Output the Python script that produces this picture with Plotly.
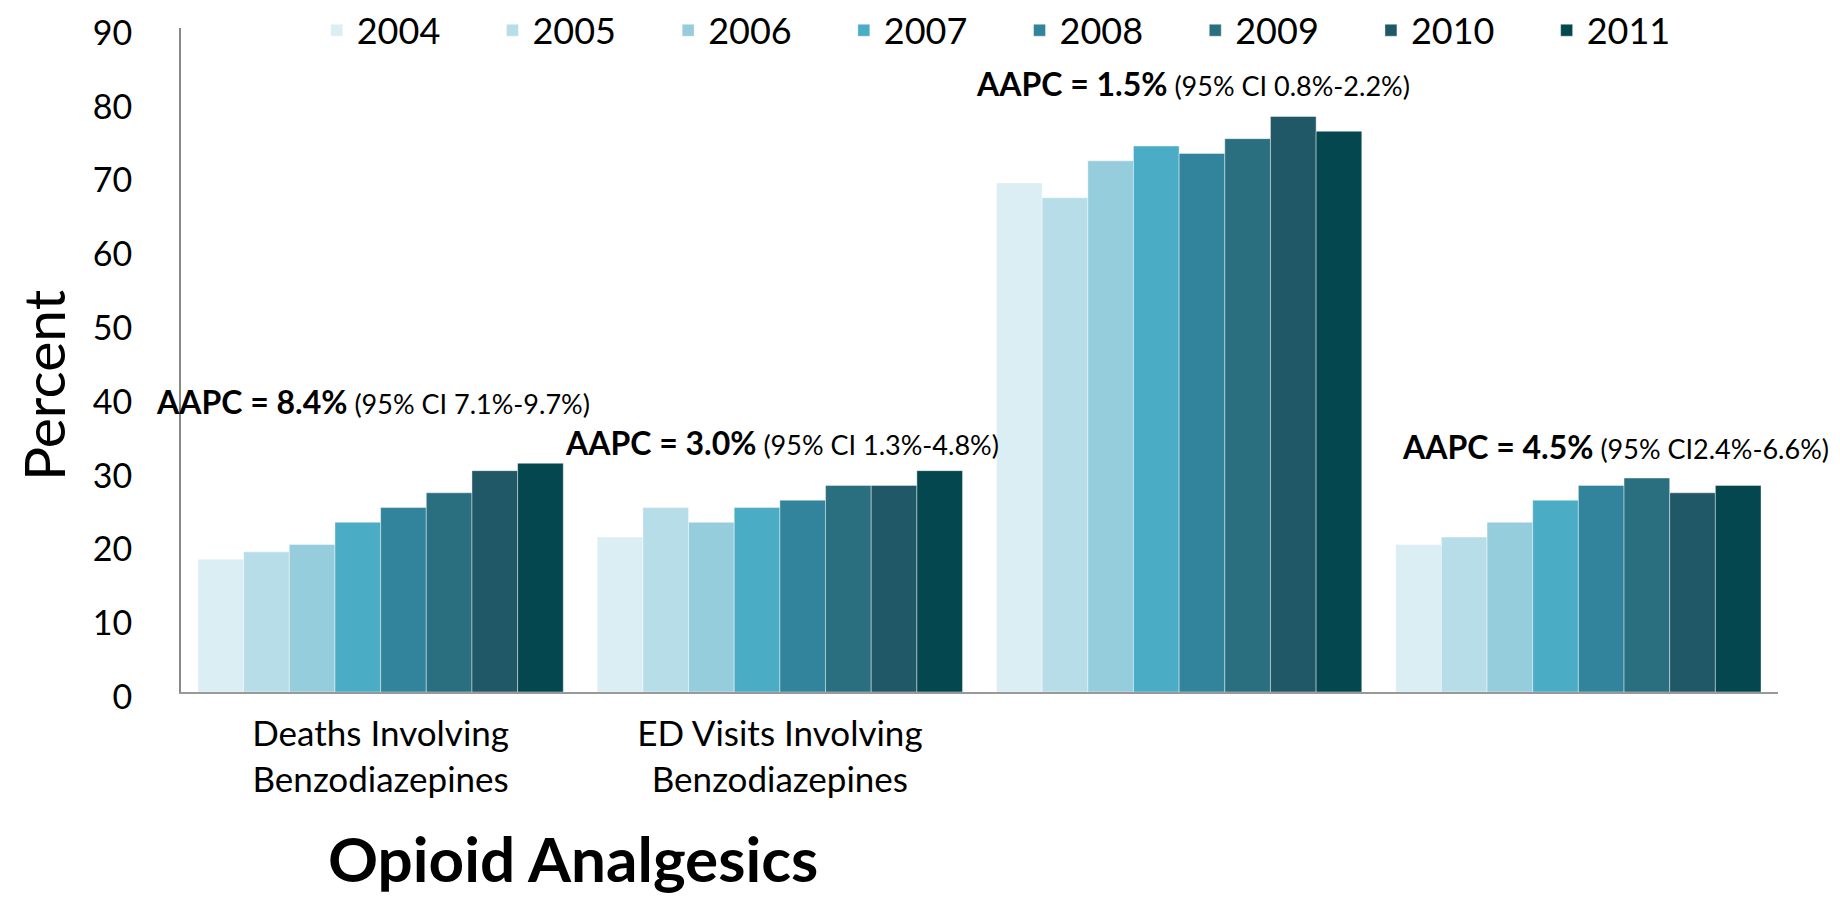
import plotly.graph_objects as go

# ---------------- data ----------------
years = ["2004", "2005", "2006", "2007", "2008", "2009", "2010", "2011"]
categories = ["Deaths Involving<br>Benzodiazepines", "ED Visits Involving<br>Benzodiazepines", "", ""]
deaths_benzo = [18, 19, 20, 23, 25, 27, 30, 31]
ed_benzo = [21, 25, 23, 25, 26, 28, 28, 30]
group3 = [69, 67, 72, 74, 73, 75, 78, 76]
group4 = [20, 21, 23, 26, 28, 29, 27, 28]
aapc_bold = ["AAPC = 8.4%", "AAPC = 3.0%", "AAPC = 1.5%", "AAPC = 4.5%"]
aapc_ci = ["(95% CI 7.1%-9.7%)", "(95% CI 1.3%-4.8%)", "(95% CI 0.8%-2.2%)", "(95% CI2.4%-6.6%)"]
y_ticks = [0, 10, 20, 30, 40, 50, 60, 70, 80, 90]

# ---------------- style ----------------
colors = ["#DBEEF3", "#B7DEE8", "#95CDDD", "#4BACC6", "#31849B", "#296F80", "#215867", "#05474F"]
FONT = "Lato, Carlito, 'Open Sans', sans-serif"
ann_x = [-0.019, 1.006, 2.034, 3.092]   # centre of each AAPC label (axis units)
ann_y = [39.4, 33.8, 82.5, 33.3]

groups = [deaths_benzo, ed_benzo, group3, group4]
xpos = list(range(len(categories)))

fig = go.Figure()
for i, yr in enumerate(years):
    fig.add_trace(go.Bar(
        x=xpos,
        y=[g[i] for g in groups],
        name=yr,
        marker=dict(color=colors[i], line=dict(color="rgba(255,255,255,0.6)", width=0.7)),
    ))

for k in range(len(categories)):
    fig.add_annotation(
        x=ann_x[k], y=ann_y[k], xref="x", yref="y",
        xanchor="center", yanchor="middle", showarrow=False,
        text=f"<b>{aapc_bold[k]}</b><span style='font-size:27px'> {aapc_ci[k]}</span>",
        font=dict(family=FONT, size=32, color="#000"),
    )

fig.add_annotation(
    text="Percent", textangle=-90, xref="paper", yref="paper",
    x=-0.0868, y=0.4615, xanchor="center", yanchor="middle", showarrow=False,
    font=dict(family=FONT, size=57, color="#000"),
)
fig.add_annotation(
    text="<b>Opioid Analgesics</b>", xref="paper", yref="paper",
    x=0.2456, y=-0.250, xanchor="center", yanchor="middle", showarrow=False,
    font=dict(family=FONT, size=62, color="#000"),
)

fig.update_layout(
    width=1840, height=901,
    margin=dict(l=173, r=70, t=20, b=217, autoexpand=False),
    barmode="group", bargap=0.085, bargroupgap=0,
    plot_bgcolor="white", paper_bgcolor="white",
    font=dict(family=FONT, color="#000"),
    showlegend=True,
    legend=dict(
        orientation="h", x=0.085, y=0.9965, xanchor="left", yanchor="middle",
        font=dict(family=FONT, size=36, color="#000"),
        entrywidth=130.7, entrywidthmode="pixels",
        bgcolor="rgba(0,0,0,0)",
    ),
    xaxis=dict(
        tickmode="array", tickvals=xpos, ticktext=categories,
        range=[-0.5, 3.5], showgrid=False, zeroline=False,
        showline=True, linecolor="#999999", linewidth=2,
        ticks="", tickfont=dict(family=FONT, size=35, color="#000"),
        ticklabelstandoff=10,
    ),
    yaxis=dict(
        range=[0, 90], tickmode="array", tickvals=y_ticks,
        showgrid=False, zeroline=False,
        showline=True, linecolor="#888888", linewidth=2,
        ticks="", tickfont=dict(family=FONT, size=34, color="#000"),
        ticklabelstandoff=40, ticklabelshift=5, ticklabeloverflow="allow",
    ),
)

fig.write_html("out.html")
